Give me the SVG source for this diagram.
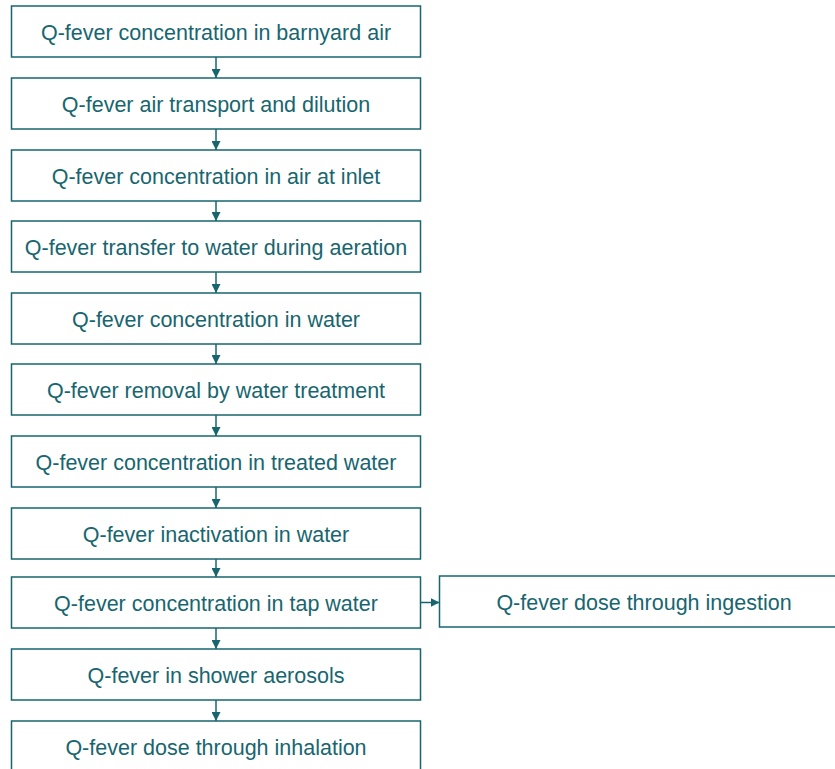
<svg xmlns="http://www.w3.org/2000/svg" width="835" height="769" viewBox="0 0 835 769">
<style>
.box rect{fill:#fff;stroke:#17666f;stroke-width:1.5}
.box text{fill:#17666f;font-family:"Liberation Sans",Arial,sans-serif;font-size:21.5px;text-anchor:middle}
.conn line{stroke:#17666f;stroke-width:1.5;fill:none}
</style>
<defs>
<marker id="ah" viewBox="0 0 10 10" refX="10" refY="5" markerWidth="9" markerHeight="9" markerUnits="userSpaceOnUse" orient="auto">
<path d="M0,0 L10,5 L0,10 z" fill="#17666f"/>
</marker>
</defs>
<rect width="835" height="769" fill="#fff"/>
<g class="conn">
<line x1="216" y1="57" x2="216" y2="78" marker-end="url(#ah)"/>
<line x1="216" y1="129" x2="216" y2="150" marker-end="url(#ah)"/>
<line x1="216" y1="201" x2="216" y2="221" marker-end="url(#ah)"/>
<line x1="216" y1="272" x2="216" y2="293" marker-end="url(#ah)"/>
<line x1="216" y1="344" x2="216" y2="364" marker-end="url(#ah)"/>
<line x1="216" y1="415" x2="216" y2="436" marker-end="url(#ah)"/>
<line x1="216" y1="487" x2="216" y2="508" marker-end="url(#ah)"/>
<line x1="216" y1="559" x2="216" y2="577" marker-end="url(#ah)"/>
<line x1="216" y1="628" x2="216" y2="649" marker-end="url(#ah)"/>
<line x1="216" y1="700" x2="216" y2="721" marker-end="url(#ah)"/>
<line x1="420.5" y1="602.5" x2="439.5" y2="602.5" marker-end="url(#ah)"/>
</g>
<g id="n1" class="box"><rect x="11.5" y="6" width="409" height="51"/><text x="216" y="40">Q-fever concentration in barnyard air</text></g>
<g id="n2" class="box"><rect x="11.5" y="78" width="409" height="51"/><text x="216" y="112">Q-fever air transport and dilution</text></g>
<g id="n3" class="box"><rect x="11.5" y="150" width="409" height="51"/><text x="216" y="184">Q-fever concentration in air at inlet</text></g>
<g id="n4" class="box"><rect x="11.5" y="221" width="409" height="51"/><text x="216" y="255">Q-fever transfer to water during aeration</text></g>
<g id="n5" class="box"><rect x="11.5" y="293" width="409" height="51"/><text x="216" y="327">Q-fever concentration in water</text></g>
<g id="n6" class="box"><rect x="11.5" y="364" width="409" height="51"/><text x="216" y="398">Q-fever removal by water treatment</text></g>
<g id="n7" class="box"><rect x="11.5" y="436" width="409" height="51"/><text x="216" y="470">Q-fever concentration in treated water</text></g>
<g id="n8" class="box"><rect x="11.5" y="508" width="409" height="51"/><text x="216" y="542">Q-fever inactivation in water</text></g>
<g id="n9" class="box"><rect x="11.5" y="577" width="409" height="51"/><text x="216" y="611">Q-fever concentration in tap water</text></g>
<g id="n10" class="box"><rect x="11.5" y="649" width="409" height="51"/><text x="216" y="683">Q-fever in shower aerosols</text></g>
<g id="n11" class="box"><rect x="11.5" y="721" width="409" height="51"/><text x="216" y="755">Q-fever dose through inhalation</text></g>
<g id="n12" class="box"><rect x="439.5" y="576" width="400" height="51"/><text x="644" y="610">Q-fever dose through ingestion</text></g>
</svg>
